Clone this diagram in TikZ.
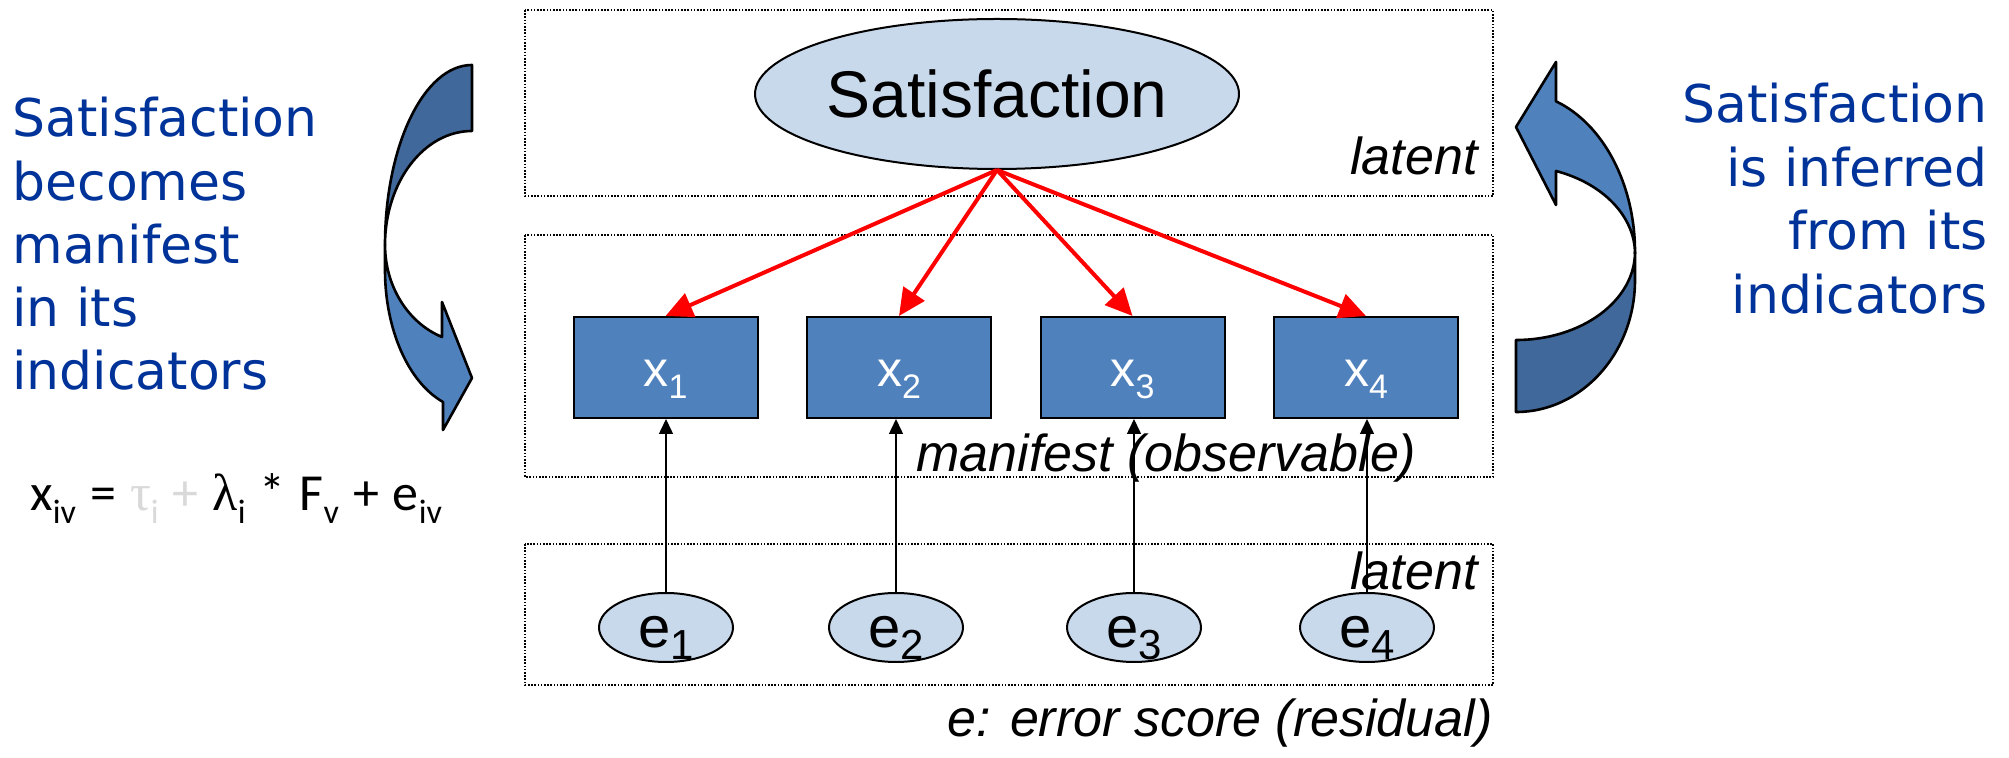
\documentclass[tikz,border=0pt]{standalone}
\usepackage{fontspec}
\setmainfont{Liberation Sans}
\newfontfamily\verdfont{DejaVu Sans}
\newfontfamily\calfont{Carlito}
\newfontfamily\greekfont{Liberation Serif}
\usetikzlibrary{shapes.geometric,arrows.meta}
\definecolor{boxblue}{RGB}{79,129,189}
\definecolor{arrowdark}{RGB}{64,104,154}
\definecolor{paleblue}{RGB}{201,217,236}
\definecolor{textblue}{RGB}{0,51,153}
\definecolor{fadegray}{RGB}{217,217,217}
% lowered subscript: shift, size, text
\newcommand\lowered[3]{\raisebox{-#1}{\fontsize{#2}{#2}\selectfont #3}}
\begin{document}
\begin{tikzpicture}[x=0.5pt,y=-0.5pt,
  zone/.style={draw=black, line width=0.7pt, dash pattern=on 0.8pt off 0.8pt},
  latentvar/.style={ellipse, draw=black, line width=1pt, fill=paleblue, inner sep=0pt},
  indicator/.style={rectangle, draw=black, line width=1pt, fill=boxblue, text=white,
    inner sep=0pt, minimum width=92pt, minimum height=50.5pt,
    text height=19.5pt, text depth=0pt, font=\fontsize{25}{25}\selectfont},
  errvar/.style={latentvar, minimum width=67pt, minimum height=34.5pt,
    text height=20.5pt, text depth=0pt, font=\fontsize{29}{29}\selectfont},
  loading/.style={draw=red, line width=2pt, -{Triangle[length=13.5pt,width=12.5pt]}},
  errpath/.style={draw=black, line width=0.75pt, -{Triangle[length=7.5pt,width=7pt]}},
  tag/.style={font=\fontsize{26}{26}\selectfont\itshape, inner sep=0pt},
  bandback/.style={fill=arrowdark, draw=black, line width=1.3pt, line join=round},
  bandfront/.style={fill=boxblue, draw=black, line width=1.3pt, line join=round},
  sidetext/.style={text=textblue, inner sep=0pt, font=\verdfont\fontsize{26}{31.6}\selectfont}
]
\useasboundingbox (0,0) rectangle (2009,758);

% dotted layers
\draw[zone] (525,10) rectangle (1493,196);
\draw[zone] (525,235) rectangle (1493,477);
\draw[zone] (525,544) rectangle (1493,685);

% layer tags
\node[tag, anchor=base east] (tagtop) at (1478,175) {latent};
\node[tag, anchor=base west] (tagmid) at (916,472) {manifest (observable)};
\node[tag, anchor=base east] (tagbot) at (1478,590) {latent};
\node[tag, anchor=base east] (tagerr) at (1493,737) {e: error score (residual)};

% latent construct
\node[latentvar, minimum width=242pt, minimum height=75pt, text height=24pt, text depth=0pt,
  font=\fontsize{33}{33}\selectfont] (sat) at (997,94) {\makebox[0pt]{Satisfaction}};

% indicators
\node[indicator] (x1) at (665.5,367.5) {x\lowered{6pt}{17}{1}};
\node[indicator] (x2) at (899,367.5) {x\lowered{6pt}{17}{2}};
\node[indicator] (x3) at (1132.5,367.5) {x\lowered{6pt}{17}{3}};
\node[indicator] (x4) at (1366,367.5) {x\lowered{6pt}{17}{4}};

% error terms
\node[errvar] (e1) at (666,627.5) {e\lowered{6pt}{21}{1}};
\node[errvar] (e2) at (896,627.5) {e\lowered{6pt}{21}{2}};
\node[errvar] (e3) at (1134,627.5) {e\lowered{6pt}{21}{3}};
\node[errvar] (e4) at (1367,627.5) {e\lowered{6pt}{21}{4}};

\foreach \i in {1,...,4}{
  \draw[loading] (sat.south) -- (x\i.north);
  \draw[errpath] (e\i.north) -- (e\i.north |- x\i.south);
}

% left curved arrow (downwards)
\path[bandback] (472,65) arc[start angle=270,end angle=180,x radius=87,y radius=180]
  arc[start angle=180,end angle=270,x radius=87,y radius=114] -- cycle;
\path[bandfront] (385,245) -- (385,270)
  arc[start angle=180,end angle=109.5,x radius=87,y radius=140]
  -- (443,430) -- (472,378) -- (442,302) -- (442,337)
  arc[start angle=110.2,end angle=180,x radius=87,y radius=98] -- cycle;

% right curved arrow (upwards)
\path[bandback] (1516,412) arc[start angle=90,end angle=0,x radius=119,y radius=132]
  -- (1635,252) arc[start angle=0,end angle=90,x radius=119,y radius=88] -- cycle;
\path[bandfront] (1635,252) arc[start angle=0,end angle=-70.36,x radius=119,y radius=160]
  -- (1556,62) -- (1516,127) -- (1556,205) -- (1556,171)
  arc[start angle=-70.36,end angle=0,x radius=119,y radius=88] -- cycle;

% side texts
\node[sidetext, anchor=base west] (lefttext) at (12,137) {\vtop{\baselineskip=31.6pt
  \hbox{Satisfaction}\hbox{becomes}\hbox{manifest}\hbox{in its}\hbox{indicators}}};
\node[sidetext, anchor=base east] (righttext) at (1989,123) {\vtop{\baselineskip=31.7pt
  \hbox to 0pt{\hss Satisfaction}\hbox to 0pt{\hss is inferred}\hbox to 0pt{\hss from its}\hbox to 0pt{\hss indicators}}};

% measurement equation
\node[anchor=base west, inner sep=0pt, font=\calfont\fontsize{26}{26}\selectfont] (formula) at (30,511)
  {\spaceskip=0.27em x\lowered{6.5pt}{17}{iv} = {\color{fadegray}{\greekfont τ}\lowered{6.5pt}{17}{i} +} {\greekfont λ}\lowered{6.5pt}{17}{i} * F\lowered{6.5pt}{17}{v} + e\lowered{6.5pt}{17}{iv}};
\end{tikzpicture}
\end{document}
